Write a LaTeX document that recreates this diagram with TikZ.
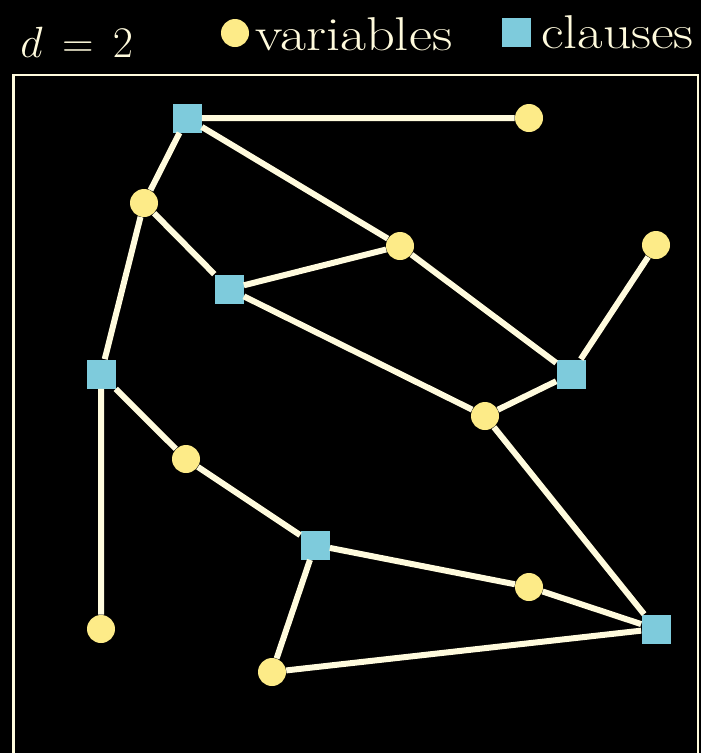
\documentclass[tikz,border=0pt]{standalone}
\usepackage{amsmath}
\usetikzlibrary{positioning}
\definecolor{cream}{HTML}{FFFBDD}
\definecolor{varyellow}{HTML}{FDEB88}
\definecolor{clauseblue}{HTML}{7ECBDC}

\begin{document}
\begin{tikzpicture}[
    var/.style={circle,fill=varyellow,inner sep=0pt,minimum size=0.56cm},
    clause/.style={rectangle,fill=clauseblue,inner sep=0pt,minimum size=0.58cm},
    edge/.style={cream,line width=0.12cm},
    lbl/.style={text=cream,font=\fontsize{27}{32}\selectfont,inner sep=0pt}]
  \fill[black] (0,0) rectangle (14.02,-15.06);
  \useasboundingbox (0,0) rectangle (14.02,-15.06);
  % header: degree and legend
  \node[lbl,anchor=base west] (deg) at (0.40,-1.14) {$d\,=\,2$};
  \node[var] (legvar) at (4.70,-0.66) {};
  \node[lbl,anchor=base west,right=0.12cm of legvar.east,yshift=-0.02cm] (legvartxt) {\scalebox{1.19}[1]{\vphantom{b}variables}};
  \node[clause] (legcl) at (10.32,-0.64) {};
  \node[lbl,anchor=base west,right=0.2cm of legcl.east] (legcltxt) {\scalebox{1.17}[1]{\vphantom{b}clauses}};
  % frame, open at the bottom
  \draw[cream,line width=0.05cm] (0.27,-15.3) |- (13.96,-1.5) -- (13.96,-15.3);
  % clauses
  \node[clause] (c1) at (3.74,-2.36) {};
  \node[clause] (c2) at (4.58,-5.78) {};
  \node[clause] (c3) at (2.02,-7.48) {};
  \node[clause] (c4) at (11.42,-7.48) {};
  \node[clause] (c5) at (6.30,-10.90) {};
  \node[clause] (c6) at (13.12,-12.58) {};
  % variables
  \node[var] (v1) at (10.58,-2.36) {};
  \node[var] (v2) at (2.88,-4.06) {};
  \node[var] (v3) at (8.00,-4.92) {};
  \node[var] (v4) at (13.12,-4.90) {};
  \node[var] (v5) at (9.70,-8.32) {};
  \node[var] (v6) at (3.72,-9.18) {};
  \node[var] (v7) at (10.58,-11.74) {};
  \node[var] (v8) at (2.02,-12.58) {};
  \node[var] (v9) at (5.44,-13.44) {};
  % incidences
  \draw[edge] (c1)--(v1) (c1)--(v2) (c1)--(v3)
              (c2)--(v2) (c2)--(v3) (c2)--(v5)
              (c3)--(v2) (c3)--(v6) (c3)--(v8)
              (c4)--(v3) (c4)--(v4) (c4)--(v5)
              (c5)--(v6) (c5)--(v7) (c5)--(v9)
              (c6)--(v5) (c6)--(v7) (c6)--(v9);
\end{tikzpicture}
\end{document}
